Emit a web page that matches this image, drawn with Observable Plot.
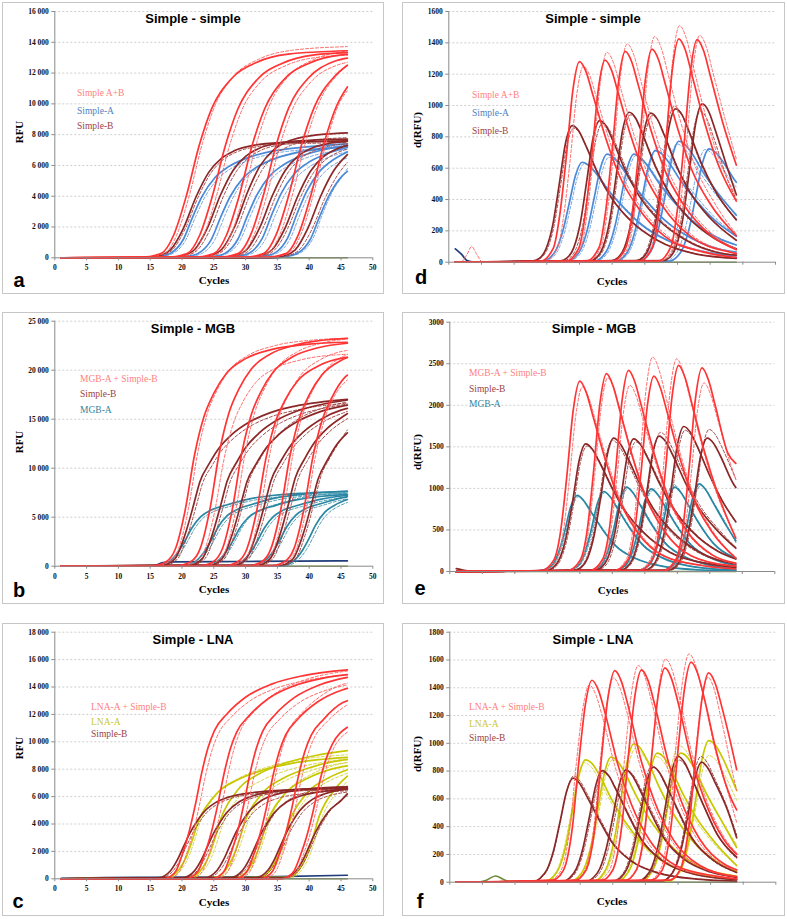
<!DOCTYPE html>
<html><head><meta charset="utf-8">
<script src="https://cdn.jsdelivr.net/npm/d3@7"></script>
<script src="https://cdn.jsdelivr.net/npm/@observablehq/plot@0.6"></script>
<style>
body{margin:0;background:#fff;}
#root{position:relative;width:787px;height:919px;background:#fff;overflow:hidden;}
.box{position:absolute;border:1px solid #c6c6c6;box-sizing:border-box;}
.t{position:absolute;white-space:nowrap;line-height:1;}
.title{font:bold 13px "Liberation Sans",Arial,sans-serif;transform:translate(-50%,-50%);color:#000;}
.ax{font:bold 11px "Liberation Serif","Times New Roman",serif;transform:translate(-50%,-50%);color:#000;}
.axr{font:bold 11px "Liberation Serif","Times New Roman",serif;transform:translate(-50%,-50%) rotate(-90deg);color:#000;}
.lab{font:bold 20px "Liberation Sans",Arial,sans-serif;transform:translate(-50%,-50%);color:#000;}
.leg{font:9.5px "Liberation Serif","Times New Roman",serif;transform:translate(0,-50%);}
</style></head>
<body><div id="root"></div>
<script>
// ---------- tick labels / categories ----------
const xTicks = [0,5,10,15,20,25,30,35,40,45,50];
const yTicksA = [0,2000,4000,6000,8000,10000,12000,14000,16000];
const yTicksB = [0,5000,10000,15000,20000,25000];
const yTicksC = [0,2000,4000,6000,8000,10000,12000,14000,16000,18000];
const yTicksD = [0,200,400,600,800,1000,1200,1400,1600];
const yTicksE = [0,500,1000,1500,2000,2500,3000];
const yTicksF = [0,200,400,600,800,1000,1200,1400,1600,1800];
const titles = ["Simple - simple","Simple - MGB","Simple - LNA"];
const legendAD = ["Simple A+B","Simple-A","Simple-B"];
const legendBE = ["MGB-A + Simple-B","Simple-B","MGB-A"];
const legendCF = ["LNA-A + Simple-B","LNA-A","Simple-B"];

// ---------- panel a : Simple - simple (RFU) ----------
const aRed = [
[[1,0],[13.7,40],[16.7,270],[18.7,1480],[20.7,4050],[22.7,7290],[24.7,9720],[27.7,11600],[31.7,12690],[36.7,13230],[46,13450]],
[[1,0],[17.8,40],[20.8,270],[22.8,1480],[24.8,4040],[26.8,7260],[28.8,9680],[31.8,11570],[35.8,12640],[40.8,13180],[46,13330]],
[[1,0],[22,40],[25,270],[27,1480],[29,4030],[31,7260],[33,9680],[36,11570],[40,12640],[45,13180],[46,13220]],
[[1,0],[25.8,40],[28.8,270],[30.8,1490],[32.8,4070],[34.8,7320],[36.8,9760],[39.8,11650],[43.8,12740],[46,12970]],
[[1,0],[29.8,40],[32.8,270],[34.8,1500],[36.8,4080],[38.8,7340],[40.8,9790],[43.8,11700],[46,12510]],
[[1,0],[33.3,40],[36.3,270],[38.3,1510],[40.3,4110],[42.3,7400],[44.3,9860],[46,11100]]];
const aRedDash = [
[[1,0],[14.2,40],[17.2,275],[19.2,1510],[21.2,4125],[23.2,7425],[25.2,9900],[28.2,11825],[32.2,12925],[37.2,13475],[46,13720]],
[[1,0],[18.4,40],[21.4,265],[23.4,1460],[25.4,3990],[27.4,7180],[29.4,9580],[32.4,11440],[36.4,12500],[41.4,13030],[46,13150]],
[[1,0],[22.7,40],[25.7,275],[27.7,1510],[29.7,4110],[31.7,7400],[33.7,9860],[36.7,11780],[40.7,12880],[45.7,13420],[46,13440]],
[[1,0],[26.3,40],[29.3,265],[31.3,1460],[33.3,3990],[35.3,7180],[37.3,9580],[40.3,11440],[44.3,12500],[46,12700]],
[[1,0],[30.4,40],[33.4,275],[35.4,1520],[37.4,4140],[39.4,7450],[41.4,9940],[44.4,11870],[46,12500]],
[[1,0],[33.7,40],[36.7,280],[38.7,1530],[40.7,4170],[42.7,7510],[44.7,10010],[46,10850]]];
const aDark = [
[[1,0],[14.2,0],[16.2,110],[18.2,530],[20.2,1900],[22.2,3950],[24.2,5550],[26.2,6460],[28.2,6950],[31.2,7300],[36.2,7490],[42.2,7560],[46,7600]],
[[1,0],[18,0],[20,120],[22,540],[24,1940],[26,4030],[28,5660],[30,6590],[32,7090],[35,7440],[40,7630],[46,7710]],
[[1,0],[22.3,0],[24.3,120],[26.3,570],[28.3,2050],[30.3,4260],[32.3,5990],[34.3,6970],[36.3,7500],[39.3,7870],[44.3,8080],[46,8110]],
[[1,0],[26.2,0],[28.2,120],[30.2,540],[32.2,1940],[34.2,4030],[36.2,5660],[38.2,6590],[40.2,7090],[43.2,7440],[46,7560]],
[[1,0],[30.2,0],[32.2,120],[34.2,540],[36.2,1930],[38.2,4000],[40.2,5620],[42.2,6550],[44.2,7050],[46,7300]],
[[1,0],[33.8,0],[35.8,110],[37.8,520],[39.8,1930],[41.8,4000],[43.8,5620],[46,6700]]];
const aDarkDash = [
[[1,0],[14.5,0],[16.5,110],[18.5,520],[20.5,1880],[22.5,3900],[24.5,5480],[26.5,6380],[28.5,6860],[31.5,7200],[36.5,7390],[42.5,7460],[46,7500]],
[[1,0],[18.5,0],[20.5,115],[22.5,535],[24.5,1910],[26.5,3980],[28.5,5580],[30.5,6500],[32.5,7000],[35.5,7340],[40.5,7530],[46,7610]],
[[1,0],[22.7,0],[24.7,120],[26.7,550],[28.7,1980],[30.7,4110],[32.7,5770],[34.7,6720],[36.7,7230],[39.7,7580],[44.7,7780],[46,7800]],
[[1,0],[26.7,0],[28.7,115],[30.7,530],[32.7,1900],[34.7,3950],[36.7,5550],[38.7,6460],[40.7,6950],[43.7,7300],[46,7410]],
[[1,0],[30.6,0],[32.6,110],[34.6,525],[36.6,1880],[38.6,3900],[40.6,5480],[42.6,6380],[44.6,6860],[46,7060]],
[[1,0],[34.4,0],[36.4,110],[38.4,510],[40.4,1830],[42.4,3800],[44.4,5330],[46,6200]]];
const aBlue = [
[[1,0],[14.2,0],[16.2,75],[18.2,300],[20.2,1190],[21.7,2680],[23.2,4020],[25.2,5220],[27.2,5890],[30.2,6480],[34.2,6930],[39.2,7190],[46,7400]],
[[1,0],[18.6,0],[20.6,75],[22.6,300],[24.6,1180],[26.1,2660],[27.6,4000],[29.6,5180],[31.6,5850],[34.6,6440],[38.6,6880],[43.6,7140],[46,7250]],
[[1,0],[22.8,0],[24.8,75],[26.8,300],[28.8,1220],[30.3,2740],[31.8,4100],[33.8,5320],[35.8,6000],[38.8,6610],[42.8,7070],[46,7280]],
[[1,0],[26.6,0],[28.6,80],[30.6,310],[32.6,1240],[34.1,2790],[35.6,4190],[37.6,5430],[39.6,6120],[42.6,6740],[46,7170]],
[[1,0],[30.6,0],[32.6,80],[34.6,320],[36.6,1280],[38.1,2880],[39.6,4320],[41.6,5600],[43.6,6320],[46,6880]],
[[1,0],[34.2,0],[36.2,75],[38.2,305],[40.2,1220],[41.7,2740],[43.2,4100],[45.2,5320],[46,5620]]];
const aBlueDash = [
[[1,0],[14.6,0],[16.6,73],[18.6,290],[20.6,1170],[22.1,2630],[23.6,3940],[25.6,5110],[27.6,5770],[30.6,6350],[34.6,6790],[39.6,7040],[46,7250]],
[[1,0],[19.2,0],[21.2,75],[23.2,300],[25.2,1200],[26.7,2700],[28.2,4050],[30.2,5250],[32.2,5930],[35.2,6530],[39.2,6980],[44.2,7240],[46,7320]],
[[1,0],[23.2,0],[25.2,74],[27.2,296],[29.2,1180],[30.7,2660],[32.2,4000],[34.2,5180],[36.2,5850],[39.2,6440],[43.2,6880],[46,7050]],
[[1,0],[27.1,0],[29.1,75],[31.1,300],[33.1,1200],[34.6,2700],[36.1,4050],[38.1,5250],[40.1,5930],[43.1,6530],[46,6900]],
[[1,0],[31,0],[33,77],[35,308],[37,1230],[38.5,2770],[40,4160],[42,5390],[44,6080],[46,6500]],
[[1,0],[34.6,0],[36.6,79],[38.6,316],[40.6,1260],[42.1,2840],[43.6,4270],[45.6,5530],[46,5800]]];
const aGreen = [[[1,0],[46,0]]];

// ---------- panel b : Simple - MGB (RFU) ----------
const bRed = [
[[1,0],[15,0],[17.5,460],[19,1830],[20.5,5730],[22,11450],[23.5,15340],[25,17630],[27,19690],[30,21180],[34,22100],[40,22670],[46,22850]],
[[1,0],[18.9,0],[21.4,470],[22.9,1870],[24.4,5850],[25.9,11700],[27.4,15680],[28.9,18020],[30.9,20120],[33.9,21650],[37.9,22580],[43.9,23170],[46,23250]],
[[1,0],[22.4,0],[24.9,460],[26.4,1850],[27.9,5780],[29.4,11550],[30.9,15480],[32.4,17790],[34.4,19870],[37.4,21370],[41.4,22290],[46,22750]],
[[1,0],[26.2,0],[28.7,440],[30.2,1760],[31.7,5500],[33.2,11000],[34.7,14740],[36.2,16940],[38.2,18920],[41.2,20350],[45.2,21230],[46,21300]],
[[1,0],[30,0],[32.5,450],[34,1820],[35.5,5680],[37,11350],[38.5,15210],[40,17480],[42,19520],[45,21000],[46,21300]],
[[1,0],[33.6,0],[36.1,450],[37.6,1790],[39.1,5600],[40.6,11200],[42.1,15010],[43.6,17250],[45.6,19260],[46,19500]]];
const bRedDash = [
[[1,0],[15.5,0],[18,470],[19.5,1860],[21,5830],[22.5,11650],[24,15610],[25.5,17940],[27.5,20040],[30.5,21550],[34.5,22490],[40.5,23070],[46,23250]],
[[1,0],[19.6,0],[22.1,440],[23.6,1740],[25.1,5450],[26.6,10900],[28.1,14610],[29.6,16790],[31.6,18750],[34.6,20170],[38.6,21040],[44.6,21580],[46,21620]],
[[1,0],[23,0],[25.5,470],[27,1890],[28.5,5900],[30,11800],[31.5,15810],[33,18170],[35,20300],[38,21830],[42,22770],[46,23180]],
[[1,0],[26.8,0],[29.3,460],[30.8,1820],[32.3,5700],[33.8,11400],[35.3,15280],[36.8,17560],[38.8,19610],[41.8,21090],[45.8,22000],[46,22020]],
[[1,0],[30.5,0],[33,460],[34.5,1860],[36,5800],[37.5,11600],[39,15540],[40.5,17860],[42.5,19950],[45.5,21460],[46,21600]],
[[1,0],[34,0],[36.5,450],[38,1810],[39.5,5650],[41,11300],[42.5,15140],[44,17400],[46,19000]]];
const bDark = [
[[1,0],[16.8,80],[18.8,690],[20.5,3270],[21.8,6190],[22.8,8600],[24.3,10490],[25.8,12040],[27.8,13420],[30.8,14790],[33.8,15650],[37.8,16340],[46,17030]],
[[1,0],[21.1,85],[23.1,700],[24.8,3310],[26.1,6260],[27.1,8700],[28.6,10610],[30.1,12180],[32.1,13570],[35.1,14960],[38.1,15830],[42.1,16530],[46,16960]],
[[1,0],[24.2,80],[26.2,690],[27.9,3270],[29.2,6190],[30.2,8600],[31.7,10490],[33.2,12040],[35.2,13420],[38.2,14790],[41.2,15650],[45.2,16340],[46,16430]],
[[1,0],[28,85],[30,700],[31.7,3330],[33,6300],[34,8750],[35.5,10680],[37,12250],[39,13650],[42,15050],[45,15930],[46,16100]],
[[1,0],[31.8,90],[33.8,720],[35.5,3420],[36.8,6480],[37.8,9000],[39.3,10980],[40.8,12600],[42.8,14040],[45.8,15480],[46,15570]],
[[1,0],[35.4,90],[37.4,710],[39.1,3380],[40.4,6410],[41.4,8900],[42.9,10860],[44.4,12460],[46,13600]]];
const bDarkDash = [
[[1,0],[17.2,80],[19.2,670],[20.9,3190],[22.2,6050],[23.2,8400],[24.7,10250],[26.2,11760],[28.2,13100],[31.2,14450],[34.2,15290],[38.2,15960],[46,16650]],
[[1,0],[21.5,85],[23.5,680],[25.2,3230],[26.5,6120],[27.5,8500],[29,10370],[30.5,11900],[32.5,13260],[35.5,14620],[38.5,15470],[42.5,16150],[46,16550]],
[[1,0],[24.6,88],[26.6,700],[28.3,3340],[29.6,6340],[30.6,8800],[32.1,10740],[33.6,12320],[35.6,13730],[38.6,15140],[41.6,16020],[45.6,16720],[46,16780]],
[[1,0],[28.4,85],[30.4,690],[32.1,3270],[33.4,6190],[34.4,8600],[35.9,10490],[37.4,12040],[39.4,13420],[42.4,14790],[45.4,15650],[46,15790]],
[[1,0],[32.2,88],[34.2,700],[35.9,3340],[37.2,6340],[38.2,8800],[39.7,10740],[41.2,12320],[43.2,13730],[46,15050]],
[[1,0],[35.8,90],[37.8,730],[39.5,3460],[40.8,6550],[41.8,9100],[43.3,11100],[44.8,12740],[46,13900]]];
const bTeal = [
[[1,0],[15,0],[16.5,80],[18,460],[19.5,1540],[20.5,2620],[21.5,3850],[23,5080],[24.5,5700],[27,6240],[30.5,6850],[34.5,7240],[39.5,7470],[46,7650]],
[[1,0],[19.1,0],[20.6,80],[22.1,470],[23.6,1560],[24.6,2650],[25.6,3900],[27.1,5150],[28.6,5770],[31.1,6320],[34.6,6940],[38.6,7330],[43.6,7570],[46,7640]],
[[1,0],[22.5,0],[24,76],[25.5,460],[27,1520],[28,2580],[29,3800],[30.5,5020],[32,5620],[34.5,6160],[38,6760],[42,7140],[46,7330]],
[[1,0],[26.4,0],[27.9,77],[29.4,460],[30.9,1540],[31.9,2620],[32.9,3850],[34.4,5080],[35.9,5700],[38.4,6240],[41.9,6850],[46,7240]],
[[1,0],[29.9,0],[31.4,79],[32.9,470],[34.4,1580],[35.4,2690],[36.4,3950],[37.9,5210],[39.4,5850],[41.9,6400],[45.4,7030],[46,7110]],
[[1,0],[34.5,0],[36,84],[37.5,500],[39,1680],[40,2860],[41,4200],[42.5,5540],[44,6220],[46,6800]]];
const bTealDash = [
[[1,0],[15.4,0],[16.9,75],[18.4,450],[19.9,1500],[20.9,2550],[21.9,3750],[23.4,4950],[24.9,5550],[27.4,6080],[30.9,6680],[34.9,7050],[39.9,7280],[46,7450]],
[[1,0],[19.5,0],[21,76],[22.5,460],[24,1520],[25,2580],[26,3800],[27.5,5020],[29,5620],[31.5,6160],[35,6760],[39,7140],[44,7370],[46,7430]],
[[1,0],[22.9,0],[24.4,78],[25.9,470],[27.4,1560],[28.4,2650],[29.4,3900],[30.9,5150],[32.4,5770],[34.9,6320],[38.4,6940],[42.4,7330],[46,7510]],
[[1,0],[26.8,0],[28.3,75],[29.8,450],[31.3,1500],[32.3,2550],[33.3,3750],[34.8,4950],[36.3,5550],[38.8,6080],[42.3,6680],[46,7020]],
[[1,0],[30.3,0],[31.8,77],[33.3,460],[34.8,1540],[35.8,2620],[36.8,3850],[38.3,5080],[39.8,5700],[42.3,6240],[45.8,6850],[46,6870]],
[[1,0],[35,0],[36.5,82],[38,490],[39.5,1640],[40.5,2790],[41.5,4100],[43,5410],[44.5,6070],[46,6500]]];
const bNavy = [[[1,0],[15.5,0],[17,380],[19,450],[30,480],[46,540]]];
const bGreen = [[[1,0],[46,0]]];

// ---------- panel c : Simple - LNA (RFU) ----------
const cRed = [
[[1,0],[17.1,0],[18.1,150],[19.1,620],[20.1,1850],[21.1,3400],[22.1,5410],[23.1,7730],[24.1,9580],[25.1,10820],[27.1,12050],[30.1,13290],[34.1,14210],[39.1,14830],[46,15250]],
[[1,0],[20.6,0],[21.6,150],[22.6,610],[23.6,1840],[24.6,3370],[25.6,5360],[26.6,7650],[27.6,9490],[28.6,10710],[30.6,11930],[33.6,13160],[37.6,14080],[42.6,14690],[46,14900]],
[[1,0],[24.7,0],[25.7,150],[26.7,620],[27.7,1850],[28.7,3390],[29.7,5390],[30.7,7700],[31.7,9550],[32.7,10780],[34.7,12010],[37.7,13240],[41.7,14170],[46,14700]],
[[1,0],[28.3,0],[29.3,150],[30.3,600],[31.3,1800],[32.3,3300],[33.3,5250],[34.3,7500],[35.3,9300],[36.3,10500],[38.3,11700],[41.3,12900],[45.3,13800],[46,13900]],
[[1,0],[32.3,0],[33.3,150],[34.3,600],[35.3,1790],[36.3,3290],[37.3,5230],[38.3,7480],[39.3,9270],[40.3,10470],[42.3,11660],[45.3,12860],[46,13000]],
[[1,0],[35.6,0],[36.6,140],[37.6,560],[38.6,1680],[39.6,3080],[40.6,4900],[41.6,7000],[42.6,8680],[43.6,9800],[46,11060]]];
const cRedDash = [
[[1,0],[17.7,0],[18.7,150],[19.7,600],[20.7,1810],[21.7,3320],[22.7,5290],[23.7,7550],[24.7,9360],[25.7,10570],[27.7,11780],[30.7,12990],[34.7,13890],[39.7,14500],[46,14890]],
[[1,0],[21.3,0],[22.3,160],[23.3,620],[24.3,1870],[25.3,3430],[26.3,5460],[27.3,7800],[28.3,9670],[29.3,10920],[31.3,12170],[34.3,13420],[38.3,14350],[43.3,14980],[46,15160]],
[[1,0],[25.3,0],[26.3,150],[27.3,600],[28.3,1790],[29.3,3280],[30.3,5220],[31.3,7450],[32.3,9240],[33.3,10430],[35.3,11620],[38.3,12820],[42.3,13710],[46,14150]],
[[1,0],[28.8,0],[29.8,155],[30.8,620],[31.8,1860],[32.8,3410],[33.8,5430],[34.8,7750],[35.8,9610],[36.8,10850],[38.8,12090],[41.8,13330],[45.8,14260],[46,14280]],
[[1,0],[32.8,0],[33.8,150],[34.8,590],[35.8,1760],[36.8,3230],[37.8,5150],[38.8,7350],[39.8,9110],[40.8,10290],[42.8,11470],[45.8,12640],[46,12700]],
[[1,0],[36,0],[37,140],[38,550],[39,1660],[40,3040],[41,4830],[42,6900],[43,8560],[44,9660],[46,10700]]];
const cYellow = [
[[1,0],[17.6,90],[19.6,720],[20.6,1530],[21.6,2790],[22.6,4230],[23.6,5130],[24.6,5760],[25.6,6300],[28.6,7200],[32.6,7920],[37.6,8460],[46,8870]],
[[1,0],[21.2,96],[23.2,770],[24.2,1630],[25.2,2980],[26.2,4510],[27.2,5470],[28.2,6140],[29.2,6720],[32.2,7680],[36.2,8450],[41.2,9020],[46,9350]],
[[1,0],[25,92],[27,740],[28,1560],[29,2850],[30,4320],[31,5240],[32,5890],[33,6440],[36,7360],[40,8100],[45,8650],[46,8700]],
[[1,0],[28.5,91],[30.5,730],[31.5,1550],[32.5,2820],[33.5,4280],[34.5,5190],[35.5,5820],[36.5,6370],[39.5,7280],[43.5,8010],[46,8240]],
[[1,0],[32,92],[34,740],[35,1560],[36,2850],[37,4320],[38,5240],[39,5890],[40,6440],[43,7360],[46,7960]],
[[1,0],[36.6,98],[38.6,780],[39.6,1670],[40.6,3040],[41.6,4610],[42.6,5590],[43.6,6270],[44.6,6860],[46,7500]]];
const cYellowDash = [
[[1,0],[18,92],[20,740],[21,1560],[22,2850],[23,4320],[24,5240],[25,5890],[26,6440],[29,7360],[33,8100],[38,8650],[46,9060]],
[[1,0],[21.6,90],[23.6,720],[24.6,1530],[25.6,2790],[26.6,4230],[27.6,5130],[28.6,5760],[29.6,6300],[32.6,7200],[36.6,7920],[41.6,8460],[46,8750]],
[[1,0],[25.4,90],[27.4,720],[28.4,1530],[29.4,2790],[30.4,4230],[31.4,5130],[32.4,5760],[33.4,6300],[36.4,7200],[40.4,7920],[45.4,8460],[46,8500]],
[[1,0],[28.9,94],[30.9,750],[31.9,1600],[32.9,2910],[33.9,4420],[34.9,5360],[35.9,6020],[36.9,6580],[39.9,7520],[43.9,8270],[46,8480]],
[[1,0],[32.4,90],[34.4,720],[35.4,1530],[36.4,2790],[37.4,4230],[38.4,5130],[39.4,5760],[40.4,6300],[43.4,7200],[46,7700]],
[[1,0],[37,95],[39,760],[40,1620],[41,2950],[42,4470],[43,5420],[44,6080],[45,6650],[46,7100]]];
const cDark = [
[[1,0],[16.2,66],[18.2,590],[19.2,1320],[20.2,2310],[21.2,3300],[22.2,4090],[23.2,4750],[25.2,5540],[27.2,5940],[31.2,6300],[37.2,6500],[46,6600]],
[[1,0],[20,67],[22,600],[23,1340],[24,2350],[25,3350],[26,4150],[27,4820],[29,5630],[31,6030],[35,6400],[41,6600],[46,6680]],
[[1,0],[23.5,68],[25.5,610],[26.5,1360],[27.5,2380],[28.5,3400],[29.5,4220],[30.5,4900],[32.5,5710],[34.5,6120],[38.5,6490],[44.5,6700],[46,6720]],
[[1,0],[27.5,67],[29.5,600],[30.5,1340],[31.5,2350],[32.5,3350],[33.5,4150],[34.5,4820],[36.5,5630],[38.5,6030],[42.5,6400],[46,6550]],
[[1,0],[31.5,69],[33.5,620],[34.5,1380],[35.5,2420],[36.5,3450],[37.5,4280],[38.5,4970],[40.5,5800],[42.5,6210],[46,6560]],
[[1,0],[36,68],[38,610],[39,1360],[40,2380],[41,3400],[42,4220],[43,4900],[45,5710],[46,6200]]];
const cDarkDash = [
[[1,0],[16.6,65],[18.6,580],[19.6,1300],[20.6,2280],[21.6,3250],[22.6,4030],[23.6,4680],[25.6,5460],[27.6,5850],[31.6,6210],[37.6,6400],[46,6500]],
[[1,0],[20.4,66],[22.4,590],[23.4,1320],[24.4,2310],[25.4,3300],[26.4,4090],[27.4,4750],[29.4,5540],[31.4,5940],[35.4,6300],[41.4,6500],[46,6580]],
[[1,0],[23.9,65],[25.9,580],[26.9,1300],[27.9,2280],[28.9,3250],[29.9,4030],[30.9,4680],[32.9,5460],[34.9,5850],[38.9,6210],[44.9,6400],[46,6420]],
[[1,0],[27.9,69],[29.9,620],[30.9,1380],[31.9,2420],[32.9,3450],[33.9,4280],[34.9,4970],[36.9,5800],[38.9,6210],[42.9,6590],[46,6760]],
[[1,0],[31.9,67],[33.9,600],[34.9,1340],[35.9,2350],[36.9,3350],[37.9,4150],[38.9,4820],[40.9,5630],[42.9,6030],[46,6330]],
[[1,0],[36.4,70],[38.4,630],[39.4,1400],[40.4,2450],[41.4,3500],[42.4,4340],[43.4,5040],[45.4,5880],[46,6050]]];
const cNavy = [[[1,40],[8,90],[15,110],[25,130],[35,160],[46,260]]];
const cGreen = [[[1,0],[46,0]]];

// ---------- panel d : Simple - simple d(RFU) ----------
const dRed = [
[[1,0],[14,6],[16,90],[17,307],[18,678],[19,1101],[20,1280],[21,1216],[22,1075],[24,794],[26,563],[29,346],[33,166],[39,64],[44,30]],
[[1,0],[17.9,6],[19.9,90],[20.9,310],[21.9,684],[22.9,1109],[23.9,1290],[24.9,1226],[25.9,1084],[27.9,800],[29.9,568],[32.9,348],[36.9,168],[42.9,65],[44,55]],
[[1,0],[21,7],[23,94],[24,323],[25,713],[26,1157],[27,1345],[28,1278],[29,1130],[31,834],[33,592],[36,363],[40,175],[44,80]],
[[1,0],[25.1,7],[27.1,95],[28.1,326],[29.1,721],[30.1,1170],[31.1,1360],[32.1,1292],[33.1,1142],[35.1,843],[37.1,598],[40.1,367],[44,170]],
[[1,0],[29.2,7],[31.2,100],[32.2,342],[33.2,755],[34.2,1226],[35.2,1425],[36.2,1354],[37.2,1197],[39.2,884],[41.2,627],[44,390]],
[[1,0],[32,7],[34,99],[35,341],[36,753],[37,1221],[38,1420],[39,1349],[40,1193],[42,880],[44,620]]];
const dRedDash = [
[[1,0],[14.6,6],[16.6,88],[17.6,300],[18.6,663],[19.6,1075],[20.6,1250],[21.6,1188],[22.6,1050],[24.6,775],[26.6,550],[29.6,338],[33.6,163],[39.6,63],[44,30]],
[[1,0],[18.2,7],[20.2,94],[21.2,322],[22.2,710],[23.2,1152],[24.2,1340],[25.2,1273],[26.2,1126],[28.2,831],[30.2,590],[33.2,362],[37.2,174],[43.2,67],[44,60]],
[[1,0],[21.3,7],[23.3,98],[24.3,335],[25.3,739],[26.3,1199],[27.3,1394],[28.3,1324],[29.3,1171],[31.3,864],[33.3,613],[36.3,376],[40.3,181],[44,85]],
[[1,0],[25.5,7],[27.5,101],[28.5,346],[29.5,763],[30.5,1238],[31.5,1440],[32.5,1368],[33.5,1210],[35.5,893],[37.5,634],[40.5,389],[44,180]],
[[1,0],[29.3,8],[31.3,106],[32.3,362],[33.3,800],[34.3,1299],[35.3,1510],[36.3,1435],[37.3,1268],[39.3,936],[41.3,664],[44,420]],
[[1,0],[32.4,7],[34.4,101],[35.4,347],[36.4,767],[37.4,1244],[38.4,1447],[39.4,1375],[40.4,1215],[42.4,897],[44,660]]];
const dBlue = [
[[1,0],[14.4,6],[15.4,26],[16.4,77],[17.4,191],[18.4,370],[19.4,555],[20.4,638],[21.4,619],[22.4,574],[24.4,459],[26.4,364],[29.4,242],[33.4,140],[39.4,64],[44,40]],
[[1,0],[18.2,7],[19.2,28],[20.2,83],[21.2,207],[22.2,400],[23.2,600],[24.2,690],[25.2,669],[26.2,621],[28.2,497],[30.2,393],[33.2,262],[37.2,152],[43.2,69],[44,65]],
[[1,0],[22.3,7],[23.3,28],[24.3,83],[25.3,207],[26.3,400],[27.3,600],[28.3,690],[29.3,669],[30.3,621],[32.3,497],[34.3,393],[37.3,262],[41.3,152],[44,110]],
[[1,0],[25.6,7],[26.6,28],[27.6,85],[28.6,214],[29.6,413],[30.6,619],[31.6,712],[32.6,691],[33.6,641],[35.6,513],[37.6,406],[40.6,271],[44,165]],
[[1,0],[29.2,8],[30.2,31],[31.2,93],[32.2,232],[33.2,448],[34.2,672],[35.2,772],[36.2,749],[37.2,695],[39.2,556],[41.2,440],[44,300]],
[[1,0],[33.8,7],[34.8,29],[35.8,87],[36.8,217],[37.8,419],[38.8,629],[39.8,723],[40.8,701],[41.8,651],[43.8,521],[44,510]]];
const dBlueDash = [
[[1,0],[14.7,6],[15.7,25],[16.7,75],[17.7,188],[18.7,364],[19.7,545],[20.7,627],[21.7,608],[22.7,564],[24.7,451],[26.7,357],[29.7,238],[33.7,138],[39.7,63],[44,40]],
[[1,0],[18.5,7],[19.5,27],[20.5,80],[21.5,201],[22.5,389],[23.5,583],[24.5,670],[25.5,650],[26.5,603],[28.5,482],[30.5,382],[33.5,255],[37.5,147],[43.5,67],[44,64]],
[[1,0],[22.6,7],[23.6,27],[24.6,82],[25.6,204],[26.6,394],[27.6,592],[28.6,680],[29.6,660],[30.6,612],[32.6,490],[34.6,388],[37.6,258],[41.6,150],[44,110]],
[[1,0],[25.9,7],[26.9,29],[27.9,88],[28.9,220],[29.9,426],[30.9,639],[31.9,734],[32.9,712],[33.9,661],[35.9,528],[37.9,418],[40.9,279],[44,170]],
[[1,0],[28.9,8],[29.9,30],[30.9,91],[31.9,227],[32.9,438],[33.9,657],[34.9,755],[35.9,732],[36.9,680],[38.9,544],[40.9,430],[44,280]],
[[1,0],[33.2,7],[34.2,29],[35.2,86],[36.2,216],[37.2,417],[38.2,626],[39.2,719],[40.2,697],[41.2,647],[43.2,518],[44,480]]];
const dDark = [
[[1,0],[12.9,9],[13.9,26],[14.9,87],[15.9,235],[16.9,497],[17.9,767],[18.9,872],[19.9,837],[20.9,750],[22.9,558],[24.9,410],[27.9,262],[31.9,140],[37.9,52],[44,25]],
[[1,0],[17.1,9],[18.1,27],[19.1,90],[20.1,244],[21.1,515],[22.1,796],[23.1,904],[24.1,868],[25.1,777],[27.1,579],[29.1,425],[32.1,271],[36.1,145],[42.1,54],[44,45]],
[[1,0],[21.6,10],[22.6,29],[23.6,96],[24.6,258],[25.6,545],[26.6,842],[27.6,957],[28.6,919],[29.6,823],[31.6,612],[33.6,450],[36.6,287],[40.6,153],[44,85]],
[[1,0],[24.9,10],[25.9,29],[26.9,95],[27.9,257],[28.9,542],[29.9,837],[30.9,951],[31.9,913],[32.9,818],[34.9,609],[36.9,447],[39.9,285],[44,140]],
[[1,0],[28.7,10],[29.7,29],[30.7,98],[31.7,264],[32.7,558],[33.7,862],[34.7,979],[35.7,940],[36.7,842],[38.7,627],[40.7,460],[44,270]],
[[1,0],[32.8,10],[33.8,30],[34.8,101],[35.8,273],[36.8,576],[37.8,889],[38.8,1010],[39.8,960],[40.8,840],[42.8,580],[44,430]]];
const dDarkDash = [
[[1,0],[13.1,9],[14.1,26],[15.1,86],[16.1,231],[17.1,487],[18.1,752],[19.1,855],[20.1,821],[21.1,735],[23.1,547],[25.1,402],[28.1,257],[32.1,137],[38.1,51],[44,25]],
[[1,0],[17.5,9],[18.5,27],[19.5,89],[20.5,239],[21.5,504],[22.5,779],[23.5,885],[24.5,850],[25.5,761],[27.5,566],[29.5,416],[32.5,266],[36.5,142],[42.5,53],[44,45]],
[[1,0],[21.8,9],[22.8,28],[23.8,94],[24.8,254],[25.8,536],[26.8,827],[27.8,940],[28.8,902],[29.8,808],[31.8,602],[33.8,442],[36.8,282],[40.8,150],[44,85]],
[[1,0],[25.1,9],[26.1,28],[27.1,94],[28.1,252],[29.1,533],[30.1,823],[31.1,935],[32.1,898],[33.1,804],[35.1,598],[37.1,439],[40.1,281],[44,140]],
[[1,0],[28.5,10],[29.5,30],[30.5,100],[31.5,269],[32.5,567],[33.5,876],[34.5,995],[35.5,955],[36.5,856],[38.5,637],[40.5,468],[44,270]],
[[1,0],[32.5,10],[33.5,29],[34.5,97],[35.5,261],[36.5,550],[37.5,849],[38.5,965],[39.5,915],[40.5,800],[42.5,545],[44,400]]];
const dNavy = [[[1,85],[2,48],[2.8,10],[4,0]]];
const dRedBump = [[[2,0],[2.8,50],[3.5,100],[4.2,55],[5,0]]];
const dGreen = [[[1,0],[44,0]]];

// ---------- panel e : Simple - MGB d(RFU) ----------
const eRed = [
[[1,0],[14,11],[16,137],[17,458],[18,1145],[19,1947],[20,2290],[21,2153],[22,1878],[24,1328],[26,870],[29,458],[33,183],[39,69],[44,30]],
[[1,0],[18.1,12],[20.1,143],[21.1,476],[22.1,1190],[23.1,2023],[24.1,2380],[25.1,2237],[26.1,1952],[28.1,1380],[30.1,904],[33.1,476],[37.1,190],[43.1,71],[44,65]],
[[1,0],[21.5,12],[23.5,145],[24.5,484],[25.5,1210],[26.5,2057],[27.5,2420],[28.5,2275],[29.5,1984],[31.5,1404],[33.5,920],[36.5,484],[40.5,194],[44,100]],
[[1,0],[25.4,12],[27.4,141],[28.4,470],[29.4,1175],[30.4,1998],[31.4,2350],[32.4,2209],[33.4,1927],[35.4,1363],[37.4,893],[40.4,470],[44,160]],
[[1,0],[29.2,12],[31.2,149],[32.2,496],[33.2,1240],[34.2,2108],[35.2,2480],[36.2,2331],[37.2,2034],[39.2,1438],[41.2,942],[44,400]],
[[1,0],[32.8,12],[34.8,147],[35.8,490],[36.8,1225],[37.8,2083],[38.8,2450],[39.8,2303],[40.8,2009],[42.8,1421],[44,1300]]];
const eRedDash = [
[[1,0],[14.4,11],[16.4,133],[17.4,444],[18.4,1110],[19.4,1887],[20.4,2220],[21.4,2087],[22.4,1820],[24.4,1288],[26.4,844],[29.4,444],[33.4,178],[39.4,67],[44,30]],
[[1,0],[18.3,12],[20.3,140],[21.3,466],[22.3,1165],[23.3,1981],[24.3,2330],[25.3,2190],[26.3,1911],[28.3,1351],[30.3,885],[33.3,466],[37.3,186],[43.3,70],[44,65]],
[[1,0],[21.7,11],[23.7,134],[24.7,448],[25.7,1120],[26.7,1904],[27.7,2240],[28.7,2106],[29.7,1837],[31.7,1299],[33.7,851],[36.7,448],[40.7,179],[44,95]],
[[1,0],[25.2,13],[27.2,155],[28.2,516],[29.2,1290],[30.2,2193],[31.2,2580],[32.2,2425],[33.2,2116],[35.2,1496],[37.2,980],[40.2,516],[44,170]],
[[1,0],[28.9,13],[30.9,154],[31.9,512],[32.9,1280],[33.9,2176],[34.9,2560],[35.9,2406],[36.9,2099],[38.9,1485],[40.9,973],[44,420]],
[[1,0],[33.1,11],[35.1,136],[36.1,454],[37.1,1135],[38.1,1930],[39.1,2270],[40.1,2134],[41.1,1861],[43.1,1317],[44,1110]]];
const eDark = [
[[1,0],[14.9,15],[15.9,46],[16.9,154],[17.9,415],[18.9,845],[19.9,1336],[20.9,1536],[21.9,1475],[22.9,1336],[24.9,1014],[26.9,737],[29.9,461],[33.9,230],[39.9,92],[44,50]],
[[1,0],[19.2,16],[20.2,48],[21.2,161],[22.2,433],[23.2,883],[24.2,1396],[25.2,1605],[26.2,1541],[27.2,1396],[29.2,1059],[31.2,770],[34.2,482],[38.2,241],[44,90]],
[[1,0],[22.3,16],[23.3,48],[24.3,160],[25.3,431],[26.3,878],[27.3,1389],[28.3,1597],[29.3,1533],[30.3,1389],[32.3,1054],[34.3,767],[37.3,479],[41.3,240],[44,150]],
[[1,0],[26.2,16],[27.2,49],[28.2,163],[29.2,440],[30.2,896],[31.2,1417],[32.2,1629],[33.2,1564],[34.2,1417],[36.2,1075],[38.2,782],[41.2,489],[44,280]],
[[1,0],[30,17],[31,52],[32,175],[33,471],[34,960],[35,1518],[36,1745],[37,1675],[38,1518],[40,1152],[42,838],[44,600]],
[[1,0],[33.6,16],[34.6,48],[35.6,161],[36.6,433],[37.6,883],[38.6,1396],[39.6,1605],[40.6,1541],[41.6,1396],[43.6,1059],[44,1010]]];
const eDarkDash = [
[[1,0],[15.1,15],[16.1,45],[17.1,151],[18.1,408],[19.1,831],[20.1,1314],[21.1,1510],[22.1,1450],[23.1,1314],[25.1,997],[27.1,725],[30.1,453],[34.1,227],[40.1,91],[44,50]],
[[1,0],[19,16],[20,47],[21,158],[22,427],[23,869],[24,1375],[25,1580],[26,1517],[27,1375],[29,1043],[31,758],[34,474],[38,237],[44,90]],
[[1,0],[22.6,16],[23.6,47],[24.6,156],[25.6,421],[26.6,858],[27.6,1357],[28.6,1560],[29.6,1498],[30.6,1357],[32.6,1030],[34.6,749],[37.6,468],[41.6,234],[44,150]],
[[1,0],[26.4,17],[27.4,50],[28.4,168],[29.4,452],[30.4,921],[31.4,1457],[32.4,1675],[33.4,1608],[34.4,1457],[36.4,1106],[38.4,804],[41.4,503],[44,290]],
[[1,0],[30.2,17],[31.2,51],[32.2,170],[33.2,459],[34.2,935],[35.2,1479],[36.2,1700],[37.2,1632],[38.2,1479],[40.2,1122],[42.2,816],[44,590]],
[[1,0],[33.9,17],[34.9,51],[35.9,171],[36.9,462],[37.9,941],[38.9,1488],[39.9,1710],[40.9,1642],[41.9,1488],[43.9,1129],[44,1110]]];
const eTeal = [
[[1,0],[13.6,9],[15.6,64],[16.6,201],[17.6,458],[18.6,778],[19.6,915],[20.6,851],[21.6,732],[23.6,494],[25.6,302],[28.6,156],[32.6,64],[38.6,18],[44,8]],
[[1,0],[17.7,10],[19.7,67],[20.7,212],[21.7,482],[22.7,819],[23.7,963],[24.7,896],[25.7,770],[27.7,520],[29.7,318],[32.7,164],[36.7,67],[42.7,19],[44,15]],
[[1,0],[21.2,10],[23.2,71],[24.2,223],[25.2,508],[26.2,863],[27.2,1015],[28.2,944],[29.2,812],[31.2,548],[33.2,335],[36.2,173],[40.2,71],[44,30]],
[[1,0],[25,10],[27,70],[28,219],[29,498],[30,846],[31,995],[32,925],[33,796],[35,537],[37,328],[40,169],[44,70]],
[[1,0],[28.6,10],[30.6,71],[31.6,223],[32.6,508],[33.6,863],[34.6,1015],[35.6,944],[36.6,812],[38.6,548],[40.6,335],[43.6,173],[44,160]],
[[1,0],[32.4,11],[34.4,74],[35.4,232],[36.4,528],[37.4,897],[38.4,1055],[39.4,981],[40.4,844],[42.4,570],[44,370]]];
const eTealDash = [
[[1,0],[13.8,9],[15.8,63],[16.8,198],[17.8,450],[18.8,765],[19.8,900],[20.8,837],[21.8,720],[23.8,486],[25.8,297],[28.8,153],[32.8,63],[38.8,18],[44,8]],
[[1,0],[17.9,10],[19.9,67],[20.9,209],[21.9,475],[22.9,808],[23.9,950],[24.9,884],[25.9,760],[27.9,513],[29.9,314],[32.9,162],[36.9,67],[42.9,19],[44,15]],
[[1,0],[21.4,10],[23.4,70],[24.4,220],[25.4,500],[26.4,850],[27.4,1000],[28.4,930],[29.4,800],[31.4,540],[33.4,330],[36.4,170],[40.4,70],[44,30]],
[[1,0],[25.2,10],[27.2,68],[28.2,215],[29.2,488],[30.2,829],[31.2,975],[32.2,907],[33.2,780],[35.2,527],[37.2,322],[40.2,166],[44,70]],
[[1,0],[28.4,11],[30.4,74],[31.4,231],[32.4,525],[33.4,893],[34.4,1050],[35.4,977],[36.4,840],[38.4,567],[40.4,347],[43.4,179],[44,165]],
[[1,0],[32.6,10],[34.6,72],[35.6,228],[36.6,518],[37.6,880],[38.6,1035],[39.6,963],[40.6,828],[42.6,559],[44,350]]];
const eStart = [[[1,35],[2,18],[3,4],[4,0]]];
const eGreen = [[[1,0],[44,0]]];

// ---------- panel f : Simple - LNA d(RFU) ----------
const fRed = [
[[1,0],[15.8,15],[16.8,44],[17.8,131],[18.8,393],[19.8,872],[20.8,1280],[21.8,1454],[22.8,1381],[23.8,1221],[25.8,843],[27.8,567],[30.8,291],[34.8,116],[40.8,44],[44,25]],
[[1,0],[19.3,15],[20.3,46],[21.3,137],[22.3,411],[23.3,914],[24.3,1341],[25.3,1524],[26.3,1448],[27.3,1280],[29.3,884],[31.3,594],[34.3,305],[38.3,122],[44,40]],
[[1,0],[23.4,15],[24.4,46],[25.4,138],[26.4,413],[27.4,917],[28.4,1346],[29.4,1529],[30.4,1453],[31.4,1284],[33.4,887],[35.4,596],[38.4,306],[42.4,122],[44,90]],
[[1,0],[27,15],[28,46],[29,139],[30,417],[31,926],[32,1358],[33,1543],[34,1466],[35,1296],[37,895],[39,602],[42,309],[44,200]],
[[1,0],[31,16],[32,48],[33,143],[34,428],[35,950],[36,1394],[37,1584],[38,1505],[39,1331],[41,919],[43,618],[44,520]],
[[1,0],[33.7,15],[34.7,45],[35.7,136],[36.7,407],[37.7,904],[38.7,1326],[39.7,1507],[40.7,1432],[41.7,1266],[43.7,874],[44,810]]];
const fRedDash = [
[[1,0],[15.4,14],[16.4,43],[17.4,128],[18.4,383],[19.4,852],[20.4,1250],[21.4,1420],[22.4,1349],[23.4,1193],[25.4,824],[27.4,554],[30.4,284],[34.4,114],[40.4,43],[44,25]],
[[1,0],[19.1,15],[20.1,44],[21.1,132],[22.1,397],[23.1,882],[24.1,1294],[25.1,1470],[26.1,1397],[27.1,1235],[29.1,853],[31.1,573],[34.1,294],[38.1,118],[44,40]],
[[1,0],[22.9,16],[23.9,47],[24.9,140],[25.9,421],[26.9,936],[27.9,1373],[28.9,1560],[29.9,1482],[30.9,1310],[32.9,905],[34.9,608],[37.9,312],[41.9,125],[44,85]],
[[1,0],[27.1,16],[28.1,48],[29.1,145],[30.1,434],[31.1,965],[32.1,1415],[33.1,1608],[34.1,1528],[35.1,1351],[37.1,933],[39.1,627],[42.1,322],[44,210]],
[[1,0],[30.7,16],[31.7,49],[32.7,148],[33.7,444],[34.7,986],[35.7,1447],[36.7,1644],[37.7,1562],[38.7,1381],[40.7,954],[42.7,641],[44,430]],
[[1,0],[33.6,15],[34.6,44],[35.6,133],[36.6,399],[37.6,886],[38.6,1299],[39.6,1476],[40.6,1380],[41.6,1180],[43.6,740],[44,660]]];
const fYellow = [
[[1,0],[14.8,9],[15.8,35],[16.8,106],[17.8,264],[18.8,511],[19.8,766],[20.8,881],[21.8,855],[22.8,784],[24.8,599],[26.8,441],[29.8,264],[33.8,123],[39.8,44],[44,20]],
[[1,0],[18.7,9],[19.7,36],[20.7,108],[21.7,270],[22.7,522],[23.7,783],[24.7,900],[25.7,873],[26.7,801],[28.7,612],[30.7,450],[33.7,270],[37.7,126],[43.7,45],[44,43]],
[[1,0],[22.2,10],[23.2,40],[24.2,120],[25.2,299],[26.2,578],[27.2,867],[28.2,996],[29.2,966],[30.2,886],[32.2,677],[34.2,498],[37.2,299],[41.2,139],[44,80]],
[[1,0],[25.8,9],[26.8,37],[27.8,111],[28.8,279],[29.8,539],[30.8,808],[31.8,929],[32.8,901],[33.8,827],[35.8,632],[37.8,465],[40.8,279],[44,120]],
[[1,0],[29.4,9],[30.4,37],[31.4,111],[32.4,279],[33.4,539],[34.4,808],[35.4,929],[36.4,901],[37.4,827],[39.4,632],[41.4,465],[44,250]],
[[1,0],[33.7,10],[34.7,41],[35.7,122],[36.7,306],[37.7,592],[38.7,887],[39.7,1020],[40.7,989],[41.7,908],[43.7,694],[44,660]]];
const fYellowDash = [
[[1,0],[14.6,9],[15.6,34],[16.6,103],[17.6,258],[18.6,499],[19.6,748],[20.6,860],[21.6,834],[22.6,765],[24.6,585],[26.6,430],[29.6,258],[33.6,120],[39.6,43],[44,20]],
[[1,0],[18.9,9],[19.9,35],[20.9,106],[21.9,264],[22.9,510],[23.9,766],[24.9,880],[25.9,854],[26.9,783],[28.9,598],[30.9,440],[33.9,264],[37.9,123],[43.9,44],[44,43]],
[[1,0],[22.4,10],[23.4,38],[24.4,115],[25.4,288],[26.4,557],[27.4,835],[28.4,960],[29.4,931],[30.4,854],[32.4,653],[34.4,480],[37.4,288],[41.4,134],[44,80]],
[[1,0],[25.6,9],[26.6,36],[27.6,109],[28.6,272],[29.6,525],[30.6,787],[31.6,905],[32.6,878],[33.6,805],[35.6,615],[37.6,453],[40.6,272],[44,120]],
[[1,0],[29.1,10],[30.1,39],[31.1,118],[32.1,295],[33.1,571],[34.1,856],[35.1,984],[36.1,954],[37.1,876],[39.1,669],[41.1,492],[44,270]],
[[1,0],[33.7,9],[34.7,36],[35.7,109],[36.7,274],[37.7,529],[38.7,793],[39.7,912],[40.7,885],[41.7,812],[43.7,620],[44,590]]];
const fDark = [
[[1,0],[12.9,7],[13.9,30],[14.9,90],[15.9,225],[16.9,434],[17.9,652],[18.9,749],[19.9,712],[20.9,629],[22.9,449],[24.9,285],[27.9,150],[31.9,67],[37.9,22],[44,8]],
[[1,0],[17.4,8],[18.4,32],[19.4,96],[20.4,241],[21.4,466],[22.4,699],[23.4,804],[24.4,764],[25.4,675],[27.4,482],[29.4,306],[32.4,161],[36.4,72],[42.4,24],[44,20]],
[[1,0],[21,8],[22,32],[23,97],[24,243],[25,469],[26,704],[27,809],[28,769],[29,680],[31,485],[33,307],[36,162],[40,73],[44,35]],
[[1,0],[25.2,8],[26.2,33],[27.2,99],[28.2,248],[29.2,480],[30.2,720],[31.2,828],[32.2,787],[33.2,696],[35.2,497],[37.2,315],[40.2,166],[44,70]],
[[1,0],[29,9],[30,36],[31,109],[32,272],[33,526],[34,789],[35,907],[36,862],[37,762],[39,544],[41,345],[44,180]],
[[1,0],[32.6,9],[33.6,35],[34.6,104],[35.6,259],[36.6,501],[37.6,752],[38.6,864],[39.6,821],[40.6,726],[42.6,518],[44,320]]];
const fDarkDash = [
[[1,0],[13,8],[14,31],[15,92],[16,230],[17,444],[18,666],[19,765],[20,727],[21,643],[23,459],[25,291],[28,153],[32,69],[38,23],[44,8]],
[[1,0],[17.6,8],[18.6,32],[19.6,95],[20.6,237],[21.6,458],[22.6,687],[23.6,790],[24.6,751],[25.6,664],[27.6,474],[29.6,300],[32.6,158],[36.6,71],[42.6,24],[44,20]],
[[1,0],[21.3,8],[22.3,32],[23.3,96],[24.3,240],[25.3,464],[26.3,696],[27.3,800],[28.3,760],[29.3,672],[31.3,480],[33.3,304],[36.3,160],[40.3,72],[44,35]],
[[1,0],[25,8],[26,34],[27,101],[28,252],[29,487],[30,731],[31,840],[32,798],[33,706],[35,504],[37,319],[40,168],[44,70]],
[[1,0],[29.2,9],[30.2,35],[31.2,106],[32.2,264],[33.2,510],[34.2,766],[35.2,880],[36.2,836],[37.2,739],[39.2,528],[41.2,334],[44,170]],
[[1,0],[32.5,9],[33.5,36],[34.5,109],[35.5,272],[36.5,525],[37.5,787],[38.5,905],[39.5,860],[40.5,760],[42.5,543],[44,340]]];
const fGreen = [[[1,0],[4,0],[5.5,12],[7,45],[8.5,14],[10,0],[44,0]]];

// ---------- colours ----------
const C = {
  red:"#ff3434", redD:"#ff6b6b", dark:"#8c2727", darkD:"#a34a4a",
  blue:"#4a8ad8", blueD:"#74a6e4", teal:"#2a87a4", tealD:"#4d9db6",
  yel:"#c8c800", yelD:"#d6d64a", green:"#6e8b3d", navy:"#1f3d7a"
};
const root = document.getElementById("root");

let keyN = 0;
function lines(list, color, dashed, width){
  const k = "s" + (keyN++);
  const rows = list.flatMap((c, i) => c.map(([x, y]) => ({x, y, k: k + "_" + i})));
  const o = {x:"x", y:"y", z:"k", stroke: color, strokeWidth: width || (dashed ? 1 : 1.7), curve:"monotone-x"};
  if (dashed) o.strokeDasharray = "3,2";
  return Plot.line(rows, o);
}
const fmtSpace = d => d3.format(",")(d).replace(/,/g, " ");
const fmtPlain = d => String(d);

function panel(cfg){
  const chart = Plot.plot({
    width: cfg.w, height: cfg.h,
    marginLeft: cfg.m[0], marginRight: cfg.m[1], marginTop: cfg.m[2], marginBottom: cfg.m[3],
    x: {domain: [0, 50], label: null},
    y: {domain: [0, cfg.ymax], label: null},
    style: {fontFamily: '"Liberation Serif","Times New Roman",serif', fontSize: "7.5px", fontWeight: "bold", background: "transparent", overflow: "visible", color: "#111"},
    marks: [
      Plot.gridY(cfg.yticks.filter(v => v > 0), {stroke: "#cfcfcf", strokeOpacity: 1, strokeDasharray: "2,2"}),
      ...cfg.layers,
      Plot.ruleX([0], {stroke: "#8a8a8a"}),
      Plot.ruleY([0], {stroke: "#8a8a8a"}),
      Plot.axisY(cfg.yticks, {tickSize: 3, tickPadding: 3, tickFormat: cfg.fmt, stroke: "#8a8a8a", label: null}),
      Plot.axisX(xTicks, {tickSize: 3, tickPadding: 4, tickFormat: cfg.xlab ? fmtPlain : (() => ""), stroke: "#8a8a8a", label: null})
    ]
  });
  chart.style.position = "absolute";
  chart.style.left = cfg.left + "px";
  chart.style.top = cfg.top + "px";
  root.appendChild(chart);
}
function div(cls, text, x, y, color){
  const e = document.createElement("div");
  e.className = "t " + cls; e.textContent = text;
  e.style.left = x + "px"; e.style.top = y + "px";
  if (color) e.style.color = color;
  root.appendChild(e);
}
function box(x, y, w, h){
  const e = document.createElement("div");
  e.className = "box";
  e.style.left = x + "px"; e.style.top = y + "px"; e.style.width = w + "px"; e.style.height = h + "px";
  root.appendChild(e);
}

// boxes
box(2, 2, 382, 292); box(402, 2, 383, 292);
box(2, 312, 382, 292); box(402, 312, 383, 292);
box(2, 623, 382, 293); box(402, 623, 383, 293);

// panel a
panel({left:0, top:0, w:390, h:300, m:[54.3,17.7,11,42.7], ymax:16000, yticks:yTicksA, fmt:fmtSpace, xlab:true,
  layers:[lines(aGreen, C.green, false, 1.5), lines(aBlueDash, C.blueD, true), lines(aBlue, C.blue, false),
          lines(aDarkDash, C.darkD, true), lines(aDark, C.dark, false), lines(aRedDash, C.redD, true), lines(aRed, C.red, false)]});
// panel d
panel({left:395, top:0, w:392, h:300, m:[53.3,12,11,38.3], ymax:1600, yticks:yTicksD, fmt:fmtPlain, xlab:false,
  layers:[lines(dGreen, C.green, false, 1.5), lines(dNavy, C.navy, false), lines(dRedBump, C.redD, true),
          lines(dBlueDash, C.blueD, true), lines(dBlue, C.blue, false),
          lines(dDarkDash, C.darkD, true), lines(dDark, C.dark, false), lines(dRedDash, C.redD, true), lines(dRed, C.red, false)]});
// panel b
panel({left:0, top:305, w:390, h:300, m:[54.3,17.7,15.7,39.3], ymax:25000, yticks:yTicksB, fmt:fmtSpace, xlab:true,
  layers:[lines(bGreen, C.green, false, 1.5), lines(bNavy, C.navy, false),
          lines(bTealDash, C.tealD, true), lines(bTeal, C.teal, false),
          lines(bDarkDash, C.darkD, true), lines(bDark, C.dark, false), lines(bRedDash, C.redD, true), lines(bRed, C.red, false)]});
// panel e
panel({left:395, top:305, w:392, h:300, m:[54.3,12.7,16.7,34], ymax:3000, yticks:yTicksE, fmt:fmtPlain, xlab:false,
  layers:[lines(eGreen, C.green, false, 1.5), lines(eStart, C.dark, false),
          lines(eTealDash, C.tealD, true), lines(eTeal, C.teal, false),
          lines(eDarkDash, C.darkD, true), lines(eDark, C.dark, false), lines(eRedDash, C.redD, true), lines(eRed, C.red, false)]});
// panel c
panel({left:0, top:615, w:390, h:304, m:[54.3,17.7,16.7,40.7], ymax:18000, yticks:yTicksC, fmt:fmtSpace, xlab:true,
  layers:[lines(cGreen, C.green, false, 1.5), lines(cNavy, C.navy, false),
          lines(cYellowDash, C.yelD, true), lines(cYellow, C.yel, false),
          lines(cDarkDash, C.darkD, true), lines(cDark, C.dark, false), lines(cRedDash, C.redD, true), lines(cRed, C.red, false)]});
// panel f
panel({left:395, top:615, w:392, h:304, m:[54.3,11.7,16.7,37.3], ymax:1800, yticks:yTicksF, fmt:fmtPlain, xlab:false,
  layers:[lines(fGreen, C.green, false, 1.5),
          lines(fYellowDash, C.yelD, true), lines(fYellow, C.yel, false),
          lines(fDarkDash, C.darkD, true), lines(fDark, C.dark, false), lines(fRedDash, C.redD, true), lines(fRed, C.red, false)]});

// titles
div("title", titles[0], 193, 17.5); div("title", titles[0], 593, 17.5);
div("title", titles[1], 193, 327.5); div("title", titles[1], 594, 328);
div("title", titles[2], 193, 638.5); div("title", titles[2], 593, 638.5);
// axis titles
div("axr", "RFU", 19, 132); div("axr", "d(RFU)", 416.5, 130);
div("axr", "RFU", 19, 442); div("axr", "d(RFU)", 416.5, 452);
div("axr", "RFU", 19, 748); div("axr", "d(RFU)", 416.5, 754);
div("ax", "Cycles", 214, 280); div("ax", "Cycles", 612, 281);
div("ax", "Cycles", 214, 589); div("ax", "Cycles", 613, 590);
div("ax", "Cycles", 214, 902); div("ax", "Cycles", 612, 901);
// panel letters
div("lab", "a", 19, 280); div("lab", "d", 421, 277);
div("lab", "b", 19, 590); div("lab", "e", 420, 588);
div("lab", "c", 18, 901); div("lab", "f", 420, 901);
// legends
const LC = {ab:"#ff7f7f", a:"#4f81bd", b:"#9b4444", mgb:"#31859c", lna:"#c8c83a"};
div("leg", legendAD[0], 77, 93, LC.ab); div("leg", legendAD[1], 77, 111, LC.a); div("leg", legendAD[2], 77, 126, LC.b);
div("leg", legendAD[0], 472, 95, LC.ab); div("leg", legendAD[1], 472, 113, LC.a); div("leg", legendAD[2], 472, 131, LC.b);
div("leg", legendBE[0], 80, 379, LC.ab); div("leg", legendBE[1], 80, 394, LC.b); div("leg", legendBE[2], 80, 410, LC.mgb);
div("leg", legendBE[0], 469, 373, LC.ab); div("leg", legendBE[1], 469, 389, LC.b); div("leg", legendBE[2], 469, 404, LC.mgb);
div("leg", legendCF[0], 91, 707, LC.ab); div("leg", legendCF[1], 91, 722, LC.lna); div("leg", legendCF[2], 91, 734, LC.b);
div("leg", legendCF[0], 469, 707, LC.ab); div("leg", legendCF[1], 469, 724, LC.lna); div("leg", legendCF[2], 469, 738, LC.b);
</script>
</body></html>
